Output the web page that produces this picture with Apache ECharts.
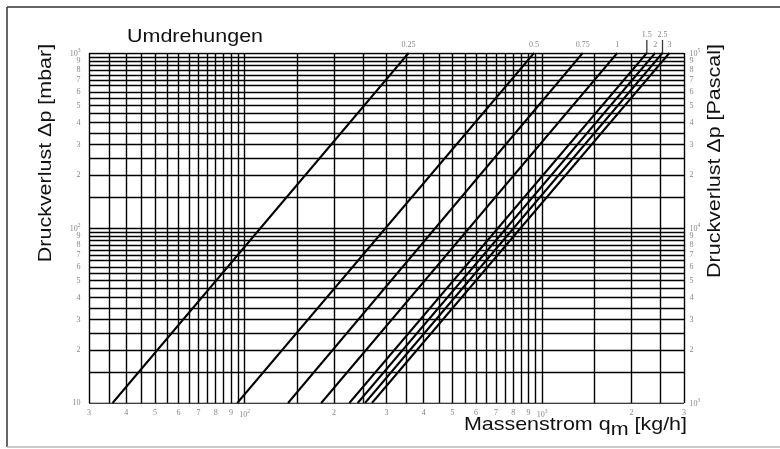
<!DOCTYPE html>
<html>
<head>
<meta charset="utf-8">
<script src="https://cdn.jsdelivr.net/npm/echarts@6/dist/echarts.min.js"></script>
<style>
html,body{margin:0;padding:0;background:#fff;}
#chart{width:780px;height:449px;}
</style>
</head>
<body>
<div id="chart"></div>
<script>
// ---- data ----
const umdNames    = ['0.25', '0.5', '0.75', '1', '1.5', '2', '2.5', '3'];
const qAt10mbar   = [36, 94.5, 140, 181, 225, 240, 254, 268];       // kg/h where line crosses 10 mbar
const qAt1000mbar = [356, 940, 1370, 1790, 2250, 2400, 2540, 2680]; // kg/h where line crosses 1000 mbar
const raisedLabels = ['1.5', '2.5'];

const xGrid = [30,35,40,45,50,55,60,65,70,75,80,85,90,95,100,150,200,250,300,350,400,450,500,550,600,650,700,750,800,850,900,950,1000,1500,2000,2500,3000];
const yGrid = [10,15,20,25,30,35,40,45,50,55,60,65,70,75,80,85,90,95,100,150,200,250,300,350,400,450,500,550,600,650,700,750,800,850,900,950,1000];

const xTickValues = [30,40,50,60,70,80,90,100,200,300,400,500,600,700,800,900,1000,2000,3000];
const xTickLabels = ['3','4','5','6','7','8','9','10^2','2','3','4','5','6','7','8','9','10^3','2','3'];
const yLeftValues = [10,20,30,40,50,60,70,80,90,100,200,300,400,500,600,700,800,900,1000];
const yLeftLabels = ['10','2','3','4','5','6','7','8','9','10^2','2','3','4','5','6','7','8','9','10^3'];
const yRightValues = [1000,2000,3000,4000,5000,6000,7000,8000,9000,10000,20000,30000,40000,50000,60000,70000,80000,90000,100000];
const yRightLabels = ['10^3','2','3','4','5','6','7','8','9','10^4','2','3','4','5','6','7','8','9','10^5'];

const X_MIN = 30, X_MAX = 3000, Y_MIN = 10, Y_MAX = 1000, P_MIN = 1000, P_MAX = 100000;

const tickFont = 'Liberation Serif';
const tickColor = '#666';
function fmt(s) {
  const p = s.split('^');
  return p.length === 2 ? '{n|' + p[0] + '}{s|' + p[1] + '}' : '{n|' + s + '}';
}
const rich = {
  n: {fontSize: 8, fontFamily: tickFont, color: tickColor, verticalAlign: 'bottom'},
  s: {fontSize: 5.5, fontFamily: tickFont, color: tickColor, verticalAlign: 'top', padding: [0, 0, 4, 0]}
};

const series = [];
// grid
series.push({
  type: 'lines', coordinateSystem: 'cartesian2d', silent: true, animation: false, z: 1,
  lineStyle: {color: '#000', width: 1.4, opacity: 1},
  data: xGrid.map(v => ({coords: [[v, Y_MIN], [v, Y_MAX]]}))
});
series.push({
  type: 'lines', coordinateSystem: 'cartesian2d', silent: true, animation: false, z: 1,
  lineStyle: {color: '#000', width: 1.4, opacity: 1},
  data: yGrid.map(v => ({coords: [[X_MIN, v], [X_MAX, v]]}))
});
// revolution lines
umdNames.forEach((n, i) => {
  series.push({
    type: 'line', name: n, silent: true, animation: false, z: 3,
    showSymbol: false, symbol: 'none',
    lineStyle: {color: '#000', width: 2},
    data: [[qAt10mbar[i], Y_MIN], [qAt1000mbar[i], Y_MAX]]
  });
});
// labels of revolution lines
series.push({
  type: 'scatter', silent: true, animation: false, clip: false, z: 4,
  symbolSize: 1, itemStyle: {color: 'rgba(0,0,0,0)'},
  label: {show: true, position: 'top', formatter: p => p.data.name,
          fontFamily: tickFont, fontSize: 8, color: tickColor},
  data: umdNames.map((n, i) => ({
    name: n, value: [qAt1000mbar[i], Y_MAX],
    label: {distance: raisedLabels.includes(n) ? 14 : 4}
  }))
});
// stalks for raised labels
series.push({
  type: 'scatter', silent: true, animation: false, clip: false, z: 4,
  symbol: 'rect', symbolSize: [1.3, 13], symbolOffset: [0, -6.5],
  itemStyle: {color: '#000'},
  data: umdNames.map((n, i) => raisedLabels.includes(n) ? [qAt1000mbar[i], Y_MAX] : null).filter(d => d)
});
// x tick labels
series.push({
  type: 'scatter', silent: true, animation: false, clip: false,
  symbolSize: 1, itemStyle: {color: 'rgba(0,0,0,0)'},
  label: {show: true, position: 'bottom', distance: 5, formatter: p => fmt(p.data.name), rich: rich},
  data: xTickValues.map((v, i) => ({name: xTickLabels[i], value: [v, Y_MIN]}))
});
// left y tick labels
series.push({
  type: 'scatter', silent: true, animation: false, clip: false,
  symbolSize: 1, itemStyle: {color: 'rgba(0,0,0,0)'},
  label: {show: true, position: 'left', distance: 8, formatter: p => fmt(p.data.name), rich: rich},
  data: yLeftValues.map((v, i) => ({name: yLeftLabels[i], value: [X_MIN, v]}))
});
// right y tick labels (Pascal)
series.push({
  type: 'scatter', silent: true, animation: false, clip: false, yAxisIndex: 1,
  symbolSize: 1, itemStyle: {color: 'rgba(0,0,0,0)'},
  label: {show: true, position: 'right', distance: 5, formatter: p => fmt(p.data.name), rich: rich},
  data: yRightValues.map((v, i) => ({name: yRightLabels[i], value: [X_MAX, v]}))
});

const titleFont = '19px "Liberation Sans", Arial, sans-serif';
const SX = 1.13;

const chart = echarts.init(document.getElementById('chart'), null, {renderer: 'canvas'});
chart.setOption({
  animation: false,
  backgroundColor: '#fff',
  grid: {left: 89, top: 53, width: 595, height: 350, containLabel: false},
  xAxis: {type: 'log', logBase: 10, min: X_MIN, max: X_MAX,
          axisLine: {show: false}, axisTick: {show: false}, axisLabel: {show: false}, splitLine: {show: false}},
  yAxis: [
    {type: 'log', logBase: 10, min: Y_MIN, max: Y_MAX,
     axisLine: {show: false}, axisTick: {show: false}, axisLabel: {show: false}, splitLine: {show: false}},
    {type: 'log', logBase: 10, min: P_MIN, max: P_MAX, position: 'right',
     axisLine: {show: false}, axisTick: {show: false}, axisLabel: {show: false}, splitLine: {show: false}}
  ],
  graphic: [
    {type: 'line', silent: true, shape: {x1: 7, y1: 7, x2: 780, y2: 7}, style: {stroke: '#333', lineWidth: 1.5}},
    {type: 'line', silent: true, shape: {x1: 7, y1: 7, x2: 7, y2: 447}, style: {stroke: '#333', lineWidth: 1.5}},
    {type: 'line', silent: true, shape: {x1: 7, y1: 447, x2: 780, y2: 447}, style: {stroke: '#bbb', lineWidth: 1.5}},
    {type: 'text', silent: true, x: 127, y: 37, scaleX: SX,
     style: {text: 'Umdrehungen', font: titleFont, fill: '#111', textAlign: 'left', textVerticalAlign: 'middle'}},
    {type: 'text', silent: true, x: 687, y: 427, scaleX: SX,
     style: {text: '{a|Massenstrom q}{b|m}{a| [kg/h]}', fill: '#111', textAlign: 'right', textVerticalAlign: 'middle',
             rich: {a: {font: titleFont, fill: '#111', verticalAlign: 'top', padding: [0, 0, 5, 0]},
                    b: {font: titleFont, fill: '#111', verticalAlign: 'top', padding: [5, 0, 0, 0]}}}},
    {type: 'text', silent: true, x: 46, y: 153, rotation: Math.PI / 2, scaleX: SX,
     style: {text: 'Druckverlust Δp [mbar]', font: titleFont, fill: '#111', textAlign: 'center', textVerticalAlign: 'middle'}},
    {type: 'text', silent: true, x: 715, y: 161, rotation: Math.PI / 2, scaleX: SX,
     style: {text: 'Druckverlust Δp [Pascal]', font: titleFont, fill: '#111', textAlign: 'center', textVerticalAlign: 'middle'}}
  ],
  series: series
});
</script>
</body>
</html>
